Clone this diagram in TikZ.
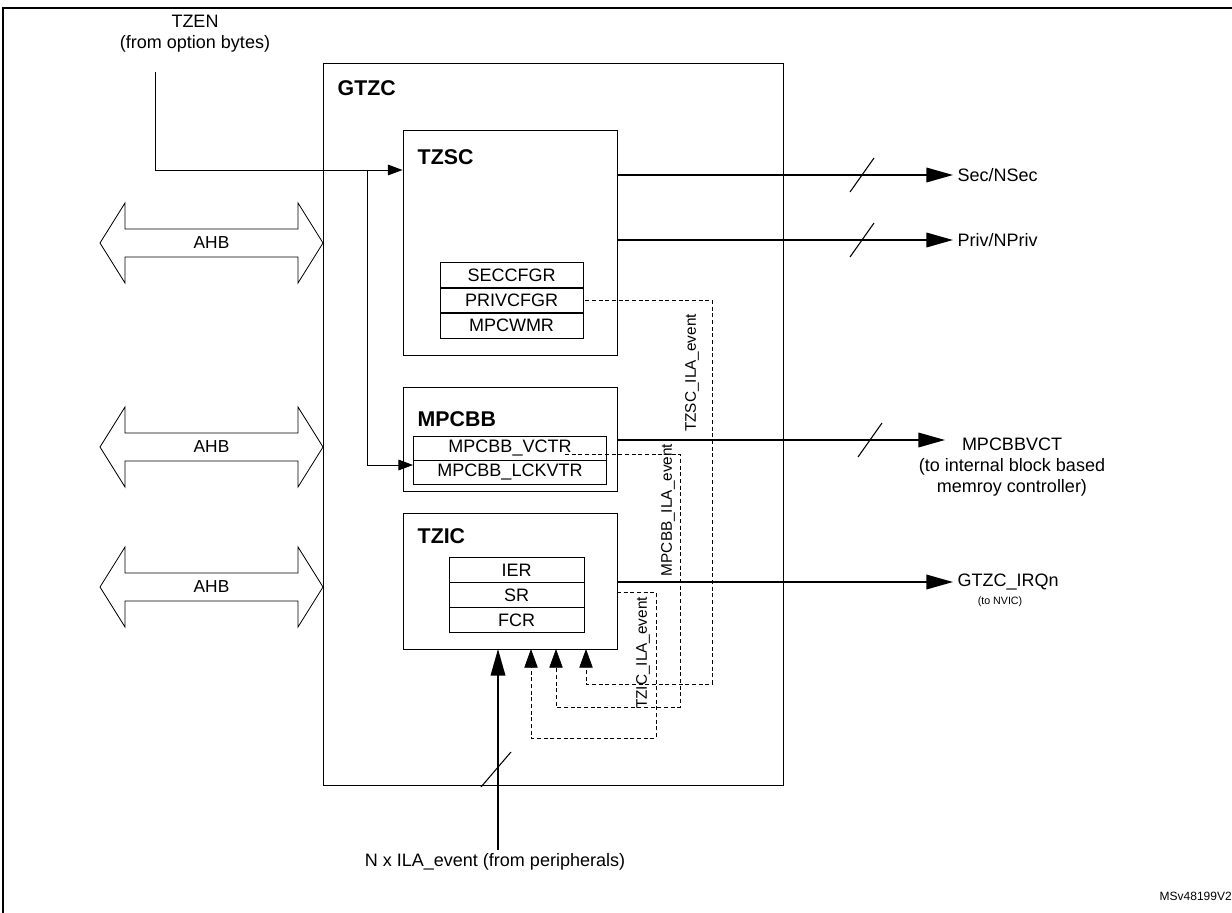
\documentclass[tikz,border=0pt]{standalone}
\usepackage{fontspec}
\setmainfont{Liberation Sans}
\usetikzlibrary{arrows.meta,positioning,calc}
\newcommand{\ahbbus}[2]{%
  \draw[line width=0.6pt] (100,#1) -- (125,#1-40) -- (125,#1-14) -- (298,#1-14) -- (298,#1-40)
    -- (323,#1) -- (298,#1+40) -- (298,#1+14) -- (125,#1+14) -- (125,#1+40) -- cycle;
  \node[ahbtext] (#2) at (211.5,#1) {AHB};}
\begin{document}
\begin{tikzpicture}[x=0.75pt,y=-0.75pt,
    box/.style={rectangle, draw, line width=0.7pt, inner sep=0pt},
    title/.style={font=\fontsize{16}{18}\bfseries\selectfont, anchor=west},
    reg/.style={rectangle, draw, line width=0.7pt, inner sep=0pt, font=\fontsize{13.5}{15}\selectfont},
    ahbtext/.style={font=\fontsize{13}{15}\selectfont},
    lbl/.style={font=\fontsize{13.5}{16}\selectfont, align=center},
    arrow/.style={-{Triangle[length=20pt,width=11pt]}, line width=1.1pt},
    sarrow/.style={-{Triangle[length=11pt,width=8pt]}, line width=0.7pt},
    ila/.style={-{Triangle[length=14pt,width=10pt]}, line width=0.55pt, dashed, dash pattern=on 3pt off 2pt},
    slash/.style={line width=0.8pt},
    vlbl/.style={rotate=90, font=\fontsize{11.5}{13}\selectfont, inner sep=1pt}
]
    \useasboundingbox (0,0) rectangle (1232,913);
    \draw[line width=1.8pt] (3,913) -- (3,8) -- (1240,8);

    % Main blocks
    \node[box, minimum width=345pt, minimum height=541.5pt] (gtzc) at (553,424) {};
    \node[title] at (333,88) {GTZC};
    \node[box, minimum width=160.5pt, minimum height=168.75pt] (tzsc) at (510,242.5) {};
    \node[title] at (413,157) {TZSC};
    \node[box, minimum width=160.5pt, minimum height=78pt] (mpcbb) at (510,439) {};
    \node[title] at (413,419) {MPCBB};
    \node[box, minimum width=160.5pt, minimum height=102pt] (tzic) at (510,581) {};
    \node[title] at (413,536) {TZIC};

    % Registers
    \node[reg, minimum width=107.25pt, minimum height=19.5pt] (seccfgr) at (511.5,275) {SECCFGR};
    \node[reg, minimum width=107.25pt, minimum height=19.5pt] (privcfgr) at (511.5,300) {PRIVCFGR};
    \node[reg, minimum width=107.25pt, minimum height=19.5pt] (mpcwmr) at (511.5,325) {MPCWMR};
    \node[reg, minimum width=144.75pt, minimum height=18pt] (vctr) at (510,448) {MPCBB\_VCTR};
    \node[reg, minimum width=144.75pt, minimum height=18pt] (lckvtr) at (510,472) {MPCBB\_LCKVTR};
    \node[reg, minimum width=101.25pt, minimum height=18.75pt] (ier) at (516.5,570) {IER};
    \node[reg, minimum width=101.25pt, minimum height=18.75pt] (sr) at (516.5,595) {SR};
    \node[reg, minimum width=101.25pt, minimum height=18.75pt] (fcr) at (516.5,620) {FCR};

    % Bus interfaces
    \ahbbus{243}{ahb1}
    \ahbbus{447}{ahb2}
    \ahbbus{587}{ahb3}

    % TZEN input
    \node[lbl, align=center] (tzen) at (195,34) {TZEN\\(from option bytes)};
    \coordinate (tzenbend) at (155,170);
    \coordinate (split) at (367,170);
    \coordinate (splitdn) at (367,465);
    \draw[line width=0.7pt] (155,72) -- (tzenbend);
    \draw[sarrow] (tzenbend) -- (tzsc.west |- tzenbend);
    \draw[sarrow] (split) -- (splitdn) -- (vctr.west |- splitdn);

    % Outputs
    \node[lbl, anchor=west] (sec) at (953,175) {Sec/NSec};
    \node[lbl, anchor=west] (priv) at (953,240) {Priv/NPriv};
    \node[lbl] (vct) at (1012,467) {MPCBBVCT\\(to internal block based\\memroy controller)};
    \node[lbl, anchor=west] (irq) at (953,582) {GTZC\_IRQn};
    \node[font=\fontsize{8}{9}\selectfont] (nvic) at (1000,602) {(to NVIC)};
    \coordinate (vcttip) at (945,440);
    \draw[arrow] (tzsc.east |- sec.west) -- (sec.west);
    \draw[arrow] (tzsc.east |- priv.west) -- (priv.west);
    \draw[arrow] (mpcbb.east |- vcttip) -- (vcttip);
    \draw[arrow] (tzic.east |- irq.west) -- (irq.west);
    \draw[slash] (850,192) -- (874,158);
    \draw[slash] (850,257) -- (874,223);
    \draw[slash] (858,457) -- (882,423);

    % ILA events
    \draw[ila] ($(privcfgr.east)+(2,0)$) -| (712,684) -| (586,649);
    \draw[ila] (565,454) -| (680,707) -| (556,649);
    \draw[ila] (617,592) -| (656,738) -| (531,649);
    \node[vlbl] at (692,373) {TZSC\_ILA\_event};
    \node[vlbl] at (668,510) {MPCBB\_ILA\_event};
    \node[vlbl] at (643,653) {TZIC\_ILA\_event};

    % Peripheral events
    \node[lbl] (periph) at (495,862) {N x ILA\_event (from peripherals)};
    \draw[-{Triangle[length=20pt,width=11pt]}, line width=1.1pt] (498,850) -- (498,649);
    \draw[slash] (481,787) -- (511,752);

    \node[font=\fontsize{9}{10}\selectfont, anchor=east, inner sep=0pt] at (1232,896) {MSv48199V2};
\end{tikzpicture}
\end{document}
